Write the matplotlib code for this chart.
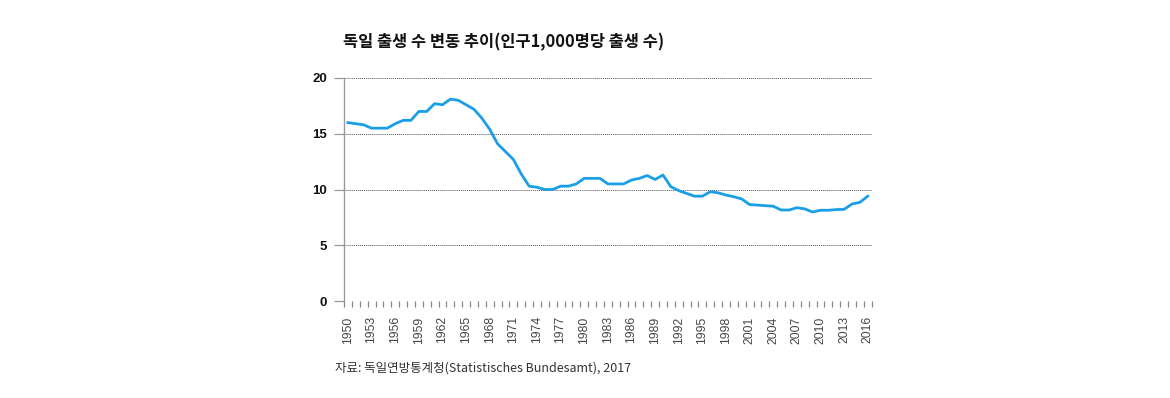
import matplotlib
matplotlib.use('Agg')
import matplotlib.pyplot as plt

years = list(range(1950, 2017))
births = [16.0, 15.9, 15.8, 15.5, 15.5, 15.5, 15.9, 16.2, 16.2, 17.0,
          17.0, 17.7, 17.6, 18.1, 18.0, 17.6, 17.2, 16.4, 15.4, 14.1,
          13.4, 12.7, 11.4, 10.3, 10.2, 10.0, 10.0, 10.3, 10.3, 10.5,
          11.0, 11.0, 11.0, 10.5, 10.5, 10.5, 10.85, 11.0, 11.25, 10.9,
          11.3, 10.25, 9.9, 9.65, 9.4, 9.4, 9.8, 9.7, 9.5, 9.35,
          9.15, 8.65, 8.6, 8.55, 8.5, 8.16, 8.16, 8.37, 8.26, 7.98,
          8.14, 8.14, 8.2, 8.22, 8.7, 8.85, 9.4]
yticks = [0, 5, 10, 15, 20]
title = '독일 출생 수 변동 추이(인구1,000명당 출생 수)'
source = '자료: 독일연방통계청(Statistisches Bundesamt), 2017'

plt.rcParams['font.family'] = ['Liberation Sans', 'DejaVu Sans']

W, H = 1170, 398
fig = plt.figure(figsize=(W / 100, H / 100), dpi=100)
ax = fig.add_axes([344 / W, 97 / H, (871.7 - 344) / W, (301 - 78) / H])

x = list(range(len(years)))
ax.plot(x, births, color='#1a9fe6', lw=2.0, solid_joinstyle='round', zorder=3)

ax.set_xlim(-0.5, len(years) - 0.5)
ax.set_ylim(0, 20)

# y axis
ax.set_yticks(yticks)
ax.set_yticklabels([str(v) for v in yticks], fontweight='bold', fontsize=9.5)
ax.tick_params(axis='y', length=7, width=0.9, color='#999999', pad=5, labelcolor='#111111')
ax.grid(axis='y', linestyle=(0, (1, 1)), color='#555555', lw=0.7)

# x axis: ticks at year boundaries, labels every 3 years at centers
ax.set_xticks([i - 0.5 for i in range(len(years) + 1)])
ax.set_xticklabels([])
ax.tick_params(axis='x', which='major', length=4.5, width=0.9, color='#888888')
lab_pos = x[::3]
ax.set_xticks(lab_pos, minor=True)
ax.set_xticklabels([str(years[i]) for i in lab_pos], minor=True, rotation=90,
                   fontsize=8.7, color='#444444')
ax.tick_params(axis='x', which='minor', length=0, pad=11)

for s in ['top', 'right', 'bottom']:
    ax.spines[s].set_visible(False)
ax.spines['left'].set_color('#999999')
ax.spines['left'].set_linewidth(1.0)

fig.text(343 / W, 1 - 42 / H, title, family=['Noto Sans CJK KR', 'DejaVu Sans'],
         fontweight='bold', fontsize=11.8, va='center', ha='left', color='#111111')
fig.text(335 / W, 1 - 368 / H, source, family=['Noto Sans CJK KR', 'DejaVu Sans'],
         fontsize=9.0, va='center', ha='left', color='#333333')

fig.savefig('out.png', dpi=100)
